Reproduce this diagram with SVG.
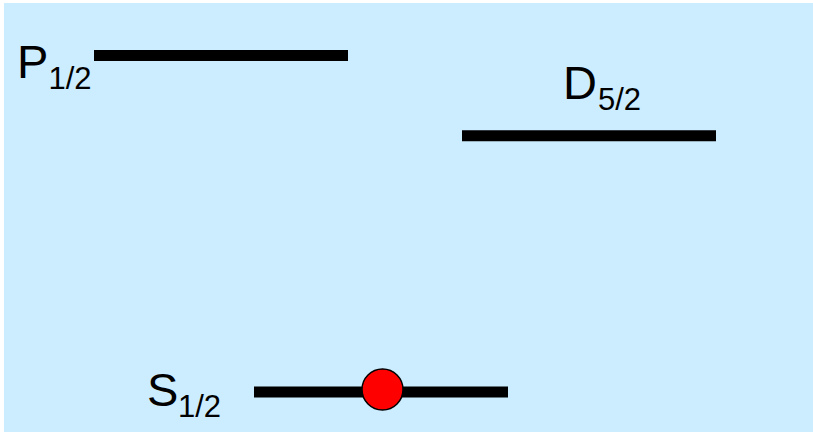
<svg xmlns="http://www.w3.org/2000/svg" width="813" height="435" viewBox="0 0 813 435">
<style>
.lvl{stroke:#000;stroke-width:11;fill:none}
.lab{font-family:"Liberation Sans",Arial,sans-serif;fill:#000}
.big{font-size:47px}
.sub{font-size:31px}
</style>
<rect x="0" y="0" width="813" height="435" fill="#fff"/>
<rect x="4" y="3" width="809" height="429" fill="#CCECFF"/>
<g id="P12">
<line class="lvl" x1="94" y1="55.5" x2="348" y2="55.5"/>
<text class="lab big" x="17" y="77.5">P</text>
<text class="lab sub" x="48.5" y="88.5">1/2</text>
</g>
<g id="D52">
<line class="lvl" x1="462" y1="135.8" x2="716" y2="135.8"/>
<text class="lab big" x="563" y="98.5">D</text>
<text class="lab sub" x="598" y="110">5/2</text>
</g>
<g id="S12">
<line class="lvl" x1="254" y1="392" x2="508" y2="392"/>
<text class="lab big" x="147" y="406">S</text>
<text class="lab sub" x="178" y="417">1/2</text>
</g>
<g id="ion">
<circle cx="382.5" cy="389.5" r="20.5" fill="#FF0000" stroke="#000" stroke-width="1.5"/>
</g>
<g id="connectors"/>
</svg>
